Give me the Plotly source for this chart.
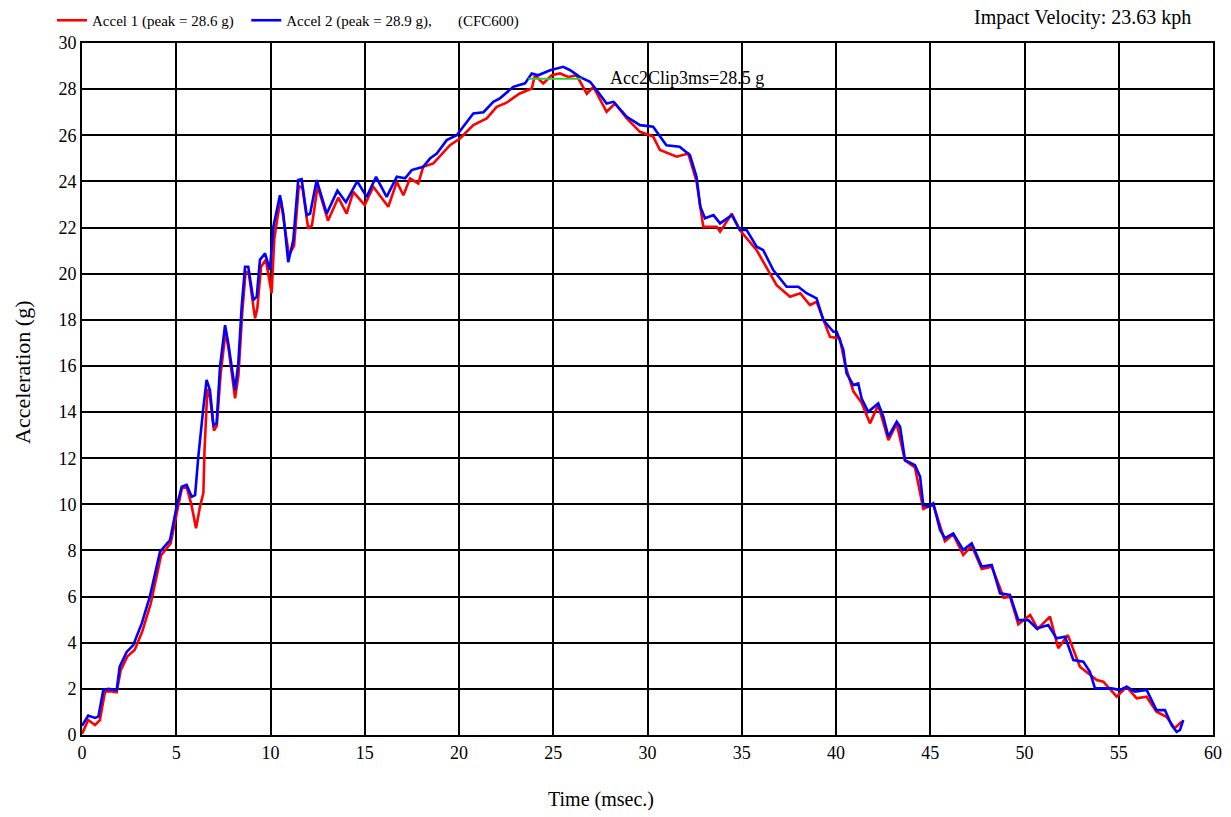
import plotly.graph_objects as go

# ---- data ----
t_acc2 = [0.0, 0.33, 0.69, 0.87, 1.13, 1.4, 1.84, 2.0, 2.37, 2.72, 3.17, 3.6, 4.14, 4.67, 5.02, 5.29, 5.55,
          5.82, 6.0, 6.17, 6.44, 6.61, 6.79, 6.97, 7.14, 7.32, 7.59, 7.76, 8.12, 8.29, 8.47, 8.65, 8.82,
          9.09, 9.27, 9.44, 9.71, 9.97, 10.15, 10.33, 10.5, 10.68, 10.94, 11.21, 11.47, 11.65, 11.92,
          12.1, 12.45, 12.98, 13.55, 14.0, 14.6, 15.1, 15.6, 16.16, 16.7, 17.14, 17.49, 18.1, 18.46,
          18.82, 19.35, 19.88, 20.23, 20.76, 21.3, 21.82, 22.17, 22.88, 23.5, 23.86, 24.2, 24.83, 25.53,
          25.9, 26.4, 26.95, 27.3, 27.83, 28.2, 28.9, 29.6, 30.3, 31.0, 31.7, 32.25, 32.6, 32.8, 33.05,
          33.5, 33.85, 34.47, 34.9, 35.26, 35.79, 36.14, 36.67, 37.38, 38.0, 38.44, 38.97, 39.33, 39.86,
          40.04, 40.39, 40.56, 40.92, 41.18, 41.36, 41.71, 42.24, 42.51, 42.78, 43.22, 43.4, 43.66,
          44.19, 44.46, 44.63, 44.9, 45.16, 45.52, 45.78, 46.22, 46.75, 47.2, 47.73, 48.26, 48.7, 49.23,
          49.67, 50.2, 50.65, 51.26, 51.7, 52.15, 52.59, 53.12, 53.47, 53.74, 54.18, 54.62, 55.07, 55.42,
          55.86, 56.48, 57.0, 57.45, 57.8, 58.07, 58.25, 58.42]
g_acc2 = [0.4, 0.84, 0.74, 0.8, 1.95, 2.0, 1.95, 2.96, 3.6, 3.9, 4.84, 6.0, 7.95, 8.45, 9.9, 10.76, 10.84,
          10.33, 10.4, 12.06, 14.2, 15.39, 14.95, 13.44, 13.5, 15.96, 17.77, 16.98, 14.95, 16.1, 18.56,
          20.3, 20.3, 18.86, 19.0, 20.6, 20.88, 20.16, 22.03, 22.76, 23.4, 22.6, 20.5, 21.46, 24.06, 24.1,
          22.54, 22.6, 24.06, 22.6, 23.6, 23.1, 24.0, 23.33, 24.2, 23.33, 24.2, 24.13, 24.49, 24.63, 24.99,
          25.21, 25.79, 26.0, 26.37, 26.94, 27.0, 27.45, 27.6, 28.1, 28.25, 28.68, 28.6, 28.82, 28.97,
          28.82, 28.53, 28.32, 27.96, 27.38, 27.45, 26.8, 26.44, 26.37, 25.57, 25.5, 25.14, 24.2, 22.9,
          22.4, 22.54, 22.18, 22.54, 21.89, 21.89, 21.17, 21.02, 20.16, 19.43, 19.43, 19.15, 18.93, 17.99,
          17.48, 17.48, 16.7, 15.68, 15.17, 15.24, 14.59, 14.01, 14.37, 13.8, 12.93, 13.58, 13.36, 11.92,
          11.7, 11.2, 9.97, 9.9, 10.04, 8.89, 8.53, 8.74, 8.02, 8.31, 7.3, 7.37, 6.14, 6.07, 4.98, 4.98,
          4.62, 4.77, 4.19, 4.26, 3.25, 3.18, 2.74, 2.02, 2.02, 2.02, 1.95, 2.09, 1.88, 1.95, 1.08, 1.08,
          0.43, 0.14, 0.22, 0.65]

t_acc1 = [0.0, 0.33, 0.69, 0.95, 1.22, 1.5, 1.84, 2.05, 2.4, 2.8, 3.2, 3.65, 4.2, 4.7, 5.05, 5.3, 5.55, 5.8,
          6.05, 6.26, 6.44, 6.5, 6.65, 6.8, 7.0, 7.15, 7.35, 7.62, 7.8, 8.12, 8.3, 8.5, 8.68, 8.85, 9.18,
          9.3, 9.5, 9.75, 10.06, 10.2, 10.38, 10.55, 10.72, 10.98, 11.25, 11.5, 11.7, 12.0, 12.2, 12.5,
          13.05, 13.6, 14.04, 14.39, 15.0, 15.45, 16.25, 16.7, 17.05, 17.4, 17.84, 18.1, 18.64, 18.99,
          19.52, 20.05, 20.76, 21.47, 22.0, 22.5, 23.2, 23.86, 24.03, 24.47, 24.92, 25.36, 25.8, 26.24,
          26.78, 27.13, 27.83, 28.28, 28.9, 29.6, 30.3, 30.66, 31.55, 32.16, 32.6, 32.96, 33.67, 33.85,
          34.47, 34.9, 35.79, 36.85, 37.56, 38.1, 38.62, 38.97, 39.68, 40.2, 40.5, 40.92, 41.36, 41.8,
          42.24, 42.78, 43.22, 43.66, 44.19, 44.63, 45.16, 45.78, 46.22, 46.75, 47.2, 47.73, 48.26, 48.9,
          49.23, 49.67, 50.3, 50.7, 51.35, 51.79, 52.3, 52.94, 53.83, 54.18, 54.89, 55.42, 55.95, 56.48,
          57.0, 57.53, 57.97, 58.34]
g_acc1 = [0.05, 0.65, 0.43, 0.65, 1.88, 1.9, 1.85, 2.8, 3.4, 3.7, 4.5, 5.7, 7.8, 8.3, 9.7, 10.7, 10.75, 10.0,
          8.96, 9.9, 10.5, 12.35, 15.0, 14.6, 13.2, 13.4, 15.6, 17.5, 16.6, 14.6, 15.6, 18.3, 20.1, 20.0,
          18.06, 18.5, 20.3, 20.6, 19.15, 21.5, 22.5, 23.2, 22.2, 20.8, 21.2, 23.8, 23.7, 21.96, 22.1, 23.8,
          22.3, 23.3, 22.6, 23.55, 22.97, 23.77, 22.9, 23.98, 23.4, 24.13, 23.91, 24.63, 24.78, 25.1,
          25.57, 25.86, 26.44, 26.73, 27.23, 27.4, 27.8, 28.03, 28.6, 28.25, 28.6, 28.68, 28.53, 28.6,
          27.8, 28.1, 27.02, 27.38, 26.73, 26.15, 25.94, 25.36, 25.07, 25.21, 24.0, 22.03, 22.03, 21.82,
          22.6, 21.89, 21.02, 19.5, 19.0, 19.15, 18.64, 18.78, 17.26, 17.19, 16.0, 14.9, 14.4, 13.51,
          14.3, 12.78, 13.5, 11.9, 11.6, 9.8, 10.0, 8.4, 8.7, 7.8, 8.2, 7.2, 7.3, 5.95, 6.0, 4.8, 5.2,
          4.6, 5.13, 3.76, 4.33, 2.96, 2.38, 2.31, 1.66, 2.09, 1.59, 1.66, 1.01, 0.79, 0.29, 0.58]

clip_t = [23.68, 26.51]
clip_g = [28.45, 28.45]
clip_label = "Acc2Clip3ms=28.5 g"

name_acc1 = "Accel 1 (peak = 28.6 g)\u00a0\u00a0"
name_acc2 = "Accel 2 (peak = 28.9 g),\u00a0\u00a0\u00a0\u00a0\u00a0\u00a0\u00a0(CFC600)"
velocity_text = "Impact Velocity: 23.63 kph"
x_title = "Time (msec.)"
y_title = "Acceleration (g)"

x_ticks = [0, 5, 10, 15, 20, 25, 30, 35, 40, 45, 50, 55, 60]
y_ticks = list(range(0, 31, 2))

FONT = "Liberation Serif"
W, H = 1231, 817
ml, mr, mt, mb = 82, 18, 43, 82
pw, ph = W - ml - mr, H - mt - mb


def px_to_paper_x(px):
    return (px - ml) / pw


def py_to_paper_y(py):
    return (H - mb - py) / ph


fig = go.Figure()
fig.add_trace(go.Scatter(x=t_acc1, y=g_acc1, mode="lines", name=name_acc1,
                         line=dict(color="#ff0000", width=2.6)))
fig.add_trace(go.Scatter(x=t_acc2, y=g_acc2, mode="lines", name=name_acc2,
                         line=dict(color="#0000ff", width=2.6)))
fig.add_trace(go.Scatter(x=clip_t, y=clip_g, mode="lines", showlegend=False,
                         line=dict(color="#33cc33", width=2)))

fig.add_annotation(x=27.9, y=28.5, xref="x", yref="y", text=clip_label, showarrow=False,
                   xanchor="left", yanchor="middle", font=dict(family=FONT, size=18, color="black"))
fig.add_annotation(x=px_to_paper_x(1193), y=py_to_paper_y(18), xref="paper", yref="paper",
                   text=velocity_text, showarrow=False, xanchor="right", yanchor="middle",
                   font=dict(family=FONT, size=20, color="black"))
fig.add_annotation(x=px_to_paper_x(601), y=py_to_paper_y(800), xref="paper", yref="paper",
                   text=x_title, showarrow=False, xanchor="center", yanchor="middle",
                   font=dict(family=FONT, size=20, color="black"))
fig.add_annotation(x=px_to_paper_x(22), y=py_to_paper_y(372), xref="paper", yref="paper",
                   text=y_title, showarrow=False, xanchor="center", yanchor="middle", textangle=-90,
                   font=dict(family=FONT, size=22, color="black"))

axis_common = dict(showgrid=True, gridcolor="#000000", gridwidth=1.6, showline=True,
                   linecolor="#000000", linewidth=2, mirror=True, zeroline=False,
                   ticks="", tickfont=dict(family=FONT, size=18, color="black"))

fig.update_xaxes(range=[0, 60], tickvals=x_ticks, **axis_common)
fig.update_yaxes(range=[0, 30], tickvals=y_ticks, **axis_common)

fig.update_layout(
    width=W, height=H,
    margin=dict(l=ml, r=mr, t=mt, b=mb, autoexpand=False),
    paper_bgcolor="white", plot_bgcolor="white",
    font=dict(family=FONT, color="black"),
    legend=dict(orientation="h", xref="container", yref="container",
                x=52 / W, y=1 - 4 / H, xanchor="left", yanchor="top",
                font=dict(family=FONT, size=15, color="black"), bgcolor="rgba(0,0,0,0)",
                itemwidth=30, tracegroupgap=0),
)

fig.write_html("out.html")
